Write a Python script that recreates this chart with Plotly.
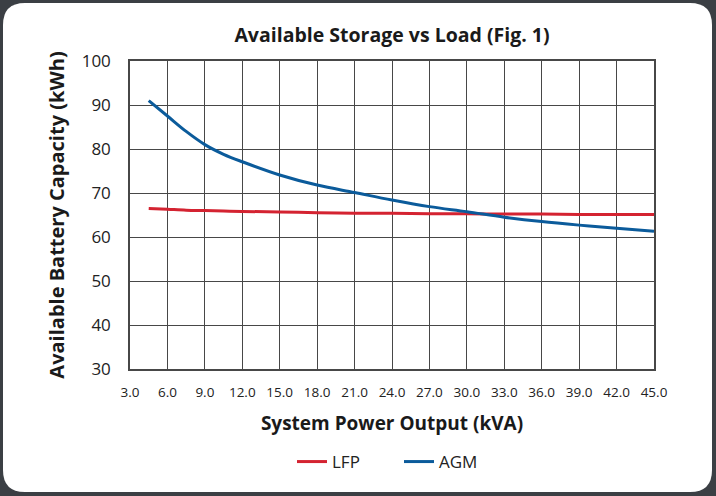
import re
import plotly.graph_objects as go

# System power output (kVA)
load_kva = [4.5, 6.0, 7.5, 9.0, 10.5, 12.0, 15.0, 18.0, 21.0, 24.0, 27.0, 30.0, 33.0, 36.0, 39.0, 42.0, 45.0]

# Available battery capacity (kWh)
lfp_kwh = [66.5, 66.3, 66.1, 66.0, 65.9, 65.8, 65.7, 65.5, 65.4, 65.4, 65.3, 65.3, 65.2, 65.2, 65.1, 65.1, 65.1]
agm_kwh = [91.0, 87.5, 84.0, 81.0, 78.8, 77.1, 74.1, 71.8, 70.1, 68.4, 66.9, 65.75, 64.5, 63.5, 62.7, 62.0, 61.3]

x_ticks = [3.0 + 3.0 * i for i in range(15)]
y_ticks = [30, 40, 50, 60, 70, 80, 90, 100]

RED = "#d42331"
BLUE = "#0b5b9b"
GRID = "#474747"
FONT = "Open Sans, sans-serif"

W, H = 716, 496
plot_l, plot_r, plot_t, plot_b = 130, 654, 61, 369

fig = go.Figure()
fig.add_trace(go.Scatter(x=load_kva, y=lfp_kwh, mode="lines", name="LFP",
                         line={"color": RED, "width": 3, "shape": "spline"}))
fig.add_trace(go.Scatter(x=load_kva, y=agm_kwh, mode="lines", name="AGM",
                         line={"color": BLUE, "width": 3, "shape": "spline"}))

# white rounded card on dark backdrop (pixel path converted to paper coords)
r = 22
x0, y0, x1, y1 = 3, 3, 712, 492
path = (f"M {x0 + r},{y0} L {x1 - r},{y0} Q {x1},{y0} {x1},{y0 + r} "
        f"L {x1},{y1 - r} Q {x1},{y1} {x1 - r},{y1} L {x0 + r},{y1} "
        f"Q {x0},{y1} {x0},{y1 - r} L {x0},{y0 + r} Q {x0},{y0} {x0 + r},{y0} Z")


def to_paper(m):
    a, b = float(m.group(1)), float(m.group(2))
    xp = (a - plot_l) / (plot_r - plot_l)
    yp = (plot_b - b) / (plot_b - plot_t)
    return f"{xp:.5f},{yp:.5f}"


paper_path = re.sub(r"([-\d.]+),([-\d.]+)", to_paper, path)
fig.add_shape(type="path", path=paper_path, xref="paper", yref="paper",
              fillcolor="white", line={"width": 0}, layer="below")

fig.update_layout(
    width=W, height=H,
    paper_bgcolor="#3b3f44",
    plot_bgcolor="white",
    margin={"l": plot_l, "r": W - plot_r, "t": plot_t, "b": H - plot_b, "autoexpand": False},
    font={"family": FONT, "color": "#222222"},
    title={"text": "<b>Available Storage vs Load (Fig. 1)</b>", "x": 392 / W, "xanchor": "center",
           "y": 1 - 35 / H, "yanchor": "middle", "font": {"size": 19.5, "color": "#1a1a1a"}},
    showlegend=True,
    legend={"orientation": "h", "x": (292 - plot_l) / (plot_r - plot_l), "xanchor": "left",
            "y": -0.302, "yanchor": "middle", "entrywidth": 62,
            "font": {"size": 17, "color": "#222222"}, "bgcolor": "rgba(0,0,0,0)"},
)
fig.update_xaxes(range=[3, 45], tickvals=x_ticks, ticktext=[f"{v:.1f}" for v in x_ticks],
                 showgrid=True, gridcolor=GRID, gridwidth=1.3, showline=True, linecolor=GRID,
                 linewidth=1.5, mirror=True, zeroline=False, ticks="", ticklabelstandoff=10,
                 tickfont={"size": 13.5},
                 title={"text": "<b>System Power Output (kVA)</b>", "font": {"size": 19, "color": "#1a1a1a"},
                        "standoff": 17})
fig.update_yaxes(range=[30, 100], tickvals=y_ticks, showgrid=True, gridcolor=GRID, gridwidth=1.3,
                 showline=True, linecolor=GRID, linewidth=1.5, mirror=True, zeroline=False,
                 ticks="", ticklabelstandoff=14, tickfont={"size": 17},
                 title={"text": "<b>Available Battery Capacity (kWh)</b>",
                        "font": {"size": 20, "color": "#1a1a1a"}, "standoff": 12})

fig.write_html("out.html", config={"displayModeBar": False},
               post_script="document.body.style.margin='0';")
